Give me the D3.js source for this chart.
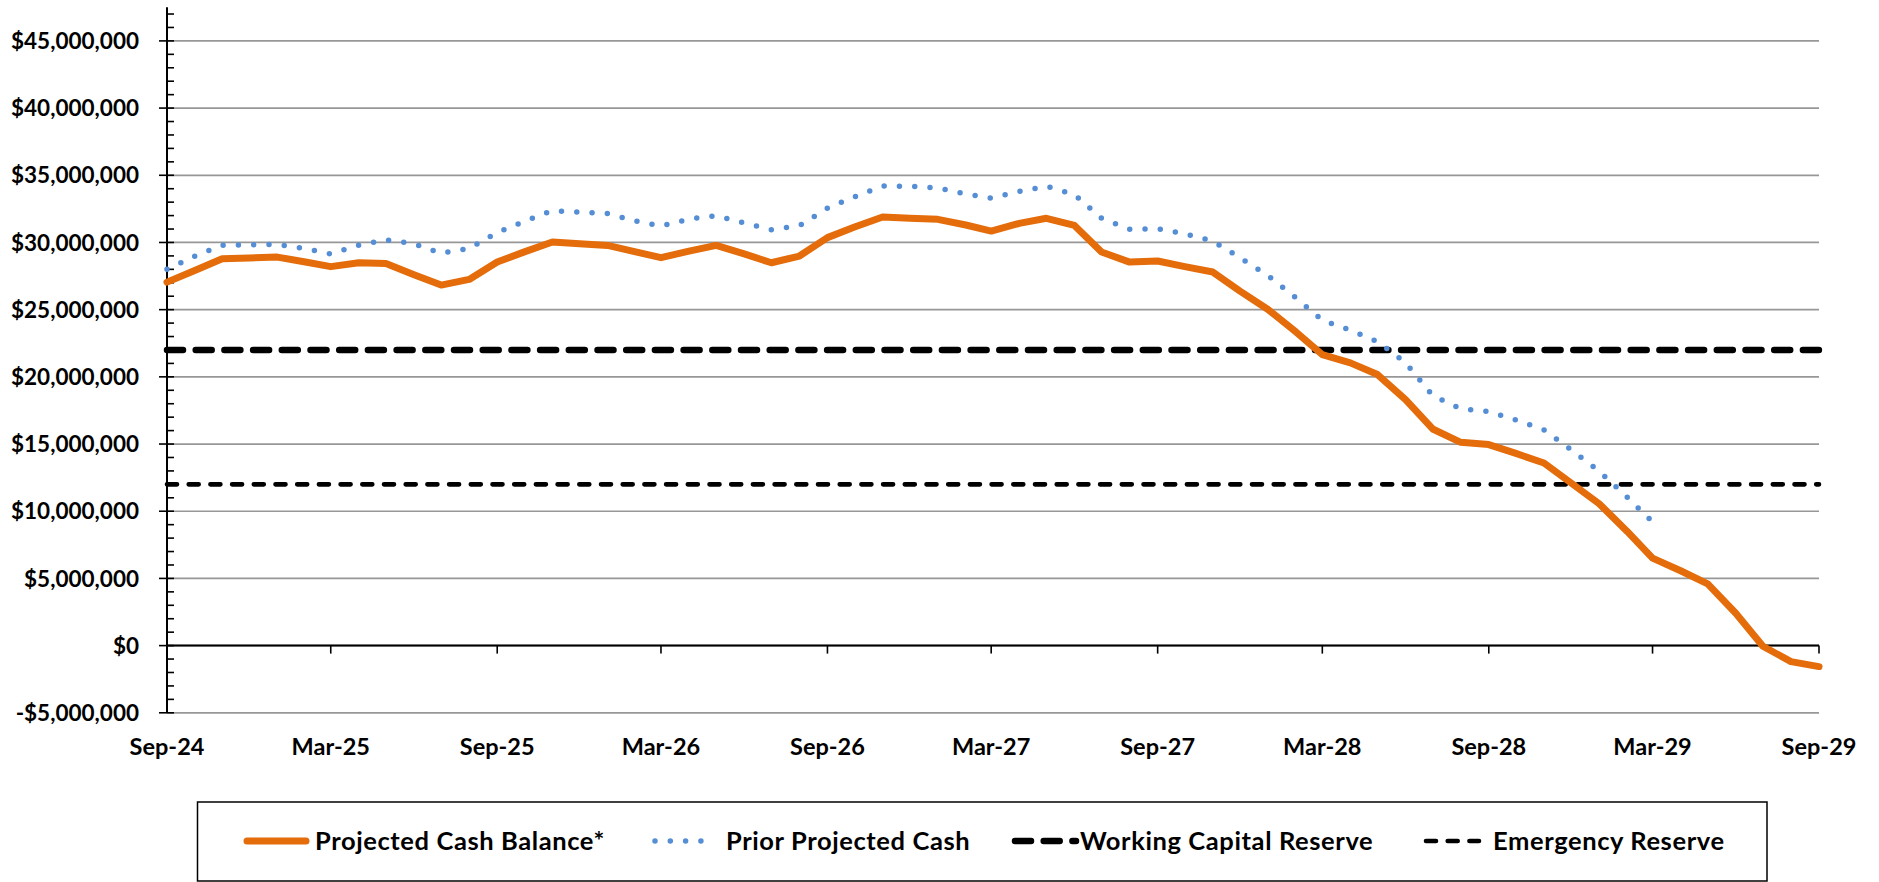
<!DOCTYPE html>
<html>
<head>
<meta charset="utf-8">
<script src="https://cdn.jsdelivr.net/npm/d3@7"></script>
<style>
  body { margin: 0; background: #fff; }
  text { font-family: Lato, "Open Sans", sans-serif; font-weight: 700; fill: #000; }
</style>
</head>
<body>
<div id="chart"></div>
<script>
// monthly balances, $ millions, Sep-24 .. Sep-29
const projected = [
  27.05, 27.9, 28.79, 28.85, 28.91, 28.55, 28.2, 28.49, 28.44, 27.6, 26.83, 27.25,
  28.54, 29.3, 30.03, 29.9, 29.78, 29.3, 28.87, 29.35, 29.78, 29.15, 28.49, 28.99,
  30.36, 31.15, 31.9, 31.8, 31.72, 31.3, 30.85, 31.42, 31.8, 31.27, 29.29, 28.54,
  28.62, 28.2, 27.8, 26.38, 25.01, 23.33, 21.66, 21.04, 20.17, 18.31, 16.12, 15.13,
  14.96, 14.3, 13.59, 12.1, 10.56, 8.5, 6.51, 5.57, 4.6, 2.41, -0.05, -1.19, -1.56
];
// prior projection, Sep-24 .. Mar-29
const prior = [
  28.0, 28.95, 29.8, 29.83, 29.85, 29.55, 29.14, 29.8, 30.2, 29.9, 29.2, 29.55,
  30.75, 31.57, 32.37, 32.25, 32.15, 31.6, 31.22, 31.74, 32.0, 31.45, 30.95, 31.25,
  32.55, 33.4, 34.2, 34.18, 34.05, 33.6, 33.3, 33.8, 34.18, 33.57, 31.8, 30.98,
  31.03, 30.64, 30.1, 28.87, 27.53, 25.87, 24.22, 23.47, 22.62, 21.05, 18.6, 17.62,
  17.42, 16.8, 16.06, 14.58, 12.98, 11.05, 9.2
];
const workingCapital = 22;
const emergency = 12;
const yTicks = [-5, 0, 5, 10, 15, 20, 25, 30, 35, 40, 45];
const xTickLabels = ["Sep-24", "Mar-25", "Sep-25", "Mar-26", "Sep-26", "Mar-27",
                     "Sep-27", "Mar-28", "Sep-28", "Mar-29", "Sep-29"];

const months = d3.timeMonth.range(new Date(2024, 8, 1), new Date(2029, 9, 1));

const W = 1879, H = 882;
const svg = d3.select("#chart").append("svg")
  .attr("width", W).attr("height", H);

const x = d3.scaleTime()
  .domain([months[0], months[months.length - 1]])
  .range([167, 1819]);
const y = d3.scaleLinear()
  .domain([-5, 47.5])
  .range([712.8, 7.3]);

const dollars = v => (v < 0 ? "-$" : "$") + d3.format(",")(Math.abs(v) * 1e6);

// gridlines
svg.append("g").selectAll("line")
  .data(yTicks)
  .join("line")
    .attr("x1", x.range()[0]).attr("x2", x.range()[1])
    .attr("y1", d => y(d)).attr("y2", d => y(d))
    .attr("stroke", "#979797")
    .attr("stroke-width", 1.7);

// y axis
const yAxis = svg.append("g");
yAxis.append("line")
  .attr("x1", 167).attr("x2", 167)
  .attr("y1", y.range()[1]).attr("y2", y.range()[0])
  .attr("stroke", "#000").attr("stroke-width", 2);
const minor = d3.range(-5, 48).filter(d => d % 5 !== 0);
yAxis.selectAll(".minor")
  .data(minor)
  .join("line")
    .attr("class", "minor")
    .attr("x1", 167).attr("x2", 174)
    .attr("y1", d => y(d)).attr("y2", d => y(d))
    .attr("stroke", "#000").attr("stroke-width", 1.6);
yAxis.selectAll(".major")
  .data(yTicks)
  .join("line")
    .attr("class", "major")
    .attr("x1", 159).attr("x2", 174)
    .attr("y1", d => y(d)).attr("y2", d => y(d))
    .attr("stroke", "#000").attr("stroke-width", 1.6);
yAxis.selectAll("text")
  .data(yTicks)
  .join("text")
    .attr("x", 139)
    .attr("y", d => y(d))
    .attr("dy", "0.36em")
    .attr("text-anchor", "end")
    .style("font-size", "22.5px")
    .text(dollars);

// x axis along zero, ticks every 6 months from Sep-24
const xTickDates = d3.timeMonth.range(months[0], d3.timeMonth.offset(months[months.length - 1], 1), 6);
const xAxis = svg.append("g");
xAxis.append("line")
  .attr("x1", x.range()[0]).attr("x2", x.range()[1])
  .attr("y1", y(0)).attr("y2", y(0))
  .attr("stroke", "#000").attr("stroke-width", 2);
xAxis.selectAll("line.tick")
  .data(xTickDates)
  .join("line")
    .attr("class", "tick")
    .attr("x1", d => x(d)).attr("x2", d => x(d))
    .attr("y1", y(0)).attr("y2", y(0) + 8)
    .attr("stroke", "#000").attr("stroke-width", 1.6);
xAxis.selectAll("text")
  .data(xTickDates)
  .join("text")
    .attr("x", d => x(d))
    .attr("y", 755)
    .attr("text-anchor", "middle")
    .style("font-size", "23.5px")
    .text((d, i) => xTickLabels[i]);

// series styles
const styles = {
  projected: { stroke: "#E46C0A", width: 7, dash: null, cap: "round" },
  prior:     { stroke: "#558ED5", width: 5.5, dash: "0 15.3", cap: "round" },
  working:   { stroke: "#000", width: 6.5, dash: "16 12.7", cap: "round" },
  emergency: { stroke: "#000", width: 4.6, dash: "10 11.7", cap: "round" }
};
const flat = v => months.map(m => ({ date: m, value: v }));
const line = d3.line().x(d => x(d.date)).y(d => y(d.value));

function drawSeries(rows, st) {
  svg.append("path")
    .datum(rows)
    .attr("fill", "none")
    .attr("stroke", st.stroke)
    .attr("stroke-width", st.width)
    .attr("stroke-linecap", st.cap)
    .attr("stroke-linejoin", "round")
    .attr("stroke-dasharray", st.dash)
    .attr("d", line);
}

drawSeries(flat(workingCapital), styles.working);
drawSeries(flat(emergency), styles.emergency);
drawSeries(prior.map((v, i) => ({ date: months[i], value: v })), styles.prior);
drawSeries(projected.map((v, i) => ({ date: months[i], value: v })), styles.projected);

// legend
const legendItems = [
  { label: "Projected Cash Balance*", st: styles.projected, x0: 247, x1: 306, tx: 315 },
  { label: "Prior Projected Cash",    st: styles.prior,     x0: 655, x1: 705, tx: 726 },
  { label: "Working Capital Reserve", st: styles.working,   x0: 1015, x1: 1076, tx: 1080 },
  { label: "Emergency Reserve",       st: styles.emergency, x0: 1426, x1: 1479, tx: 1493 }
];
const legend = svg.append("g");
legend.append("rect")
  .attr("x", 197.5).attr("y", 802)
  .attr("width", 1569.5).attr("height", 79)
  .attr("fill", "none").attr("stroke", "#000").attr("stroke-width", 1.5);
legendItems.forEach(it => {
  legend.append("line")
    .attr("x1", it.x0).attr("x2", it.x1)
    .attr("y1", 841).attr("y2", 841)
    .attr("stroke", it.st.stroke)
    .attr("stroke-width", it.st.width)
    .attr("stroke-linecap", it.st.cap)
    .attr("stroke-dasharray", it.st.dash);
  legend.append("text")
    .attr("x", it.tx).attr("y", 841)
    .attr("dy", "0.36em")
    .style("font-size", "25.5px")
    .style("letter-spacing", "0.6px")
    .text(it.label);
});
</script>
</body>
</html>
